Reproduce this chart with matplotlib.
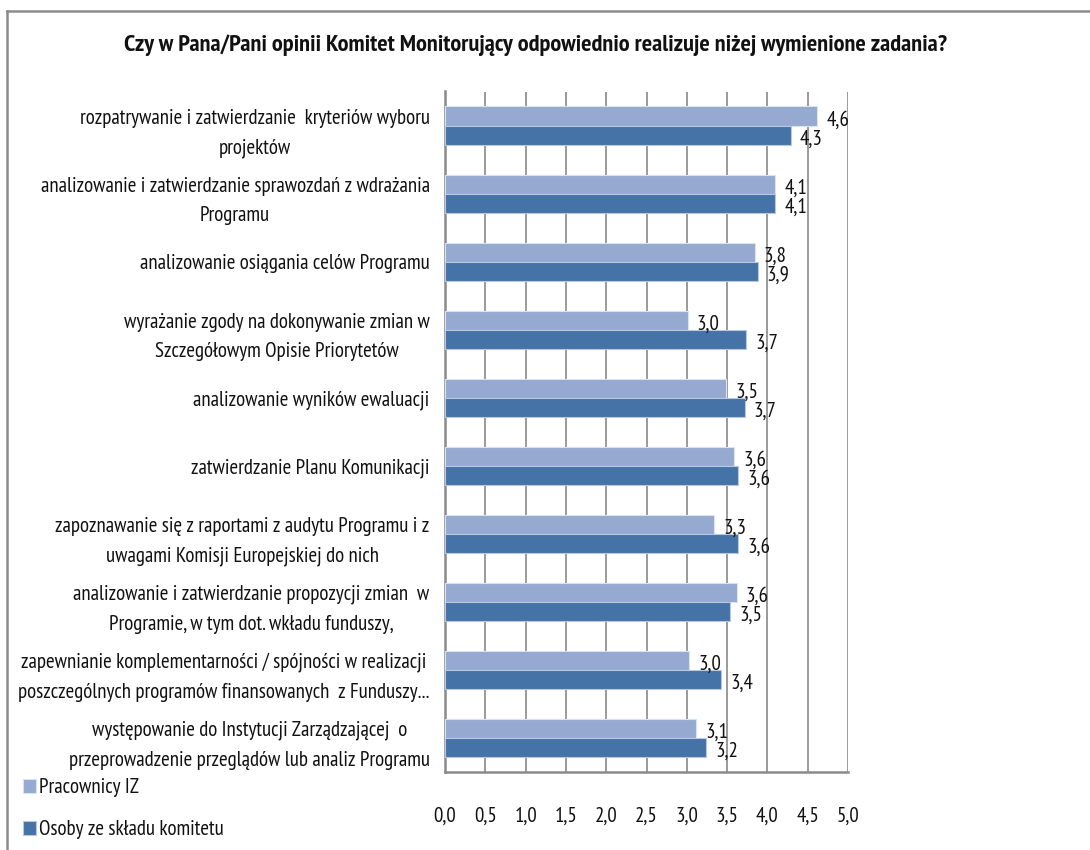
import matplotlib
matplotlib.use("Agg")
import matplotlib.pyplot as plt
from matplotlib.lines import Line2D
import numpy as np

plt.rcParams['font.family'] = ['PT Sans Narrow', 'DejaVu Sans']

title = "Czy w Pana/Pani opinii Komitet Monitorujący odpowiednio realizuje niżej wymienione zadania?"

categories = [
    "rozpatrywanie i zatwierdzanie  kryteriów wyboru\nprojektów",
    "analizowanie i zatwierdzanie sprawozdań z wdrażania\nProgramu",
    "analizowanie osiągania celów Programu",
    "wyrażanie zgody na dokonywanie zmian w\nSzczegółowym Opisie Priorytetów",
    "analizowanie wyników ewaluacji",
    "zatwierdzanie Planu Komunikacji",
    "zapoznawanie się z raportami z audytu Programu i z\nuwagami Komisji Europejskiej do nich",
    "analizowanie i zatwierdzanie propozycji zmian  w\nProgramie, w tym dot. wkładu funduszy,",
    "zapewnianie komplementarności / spójności w realizacji\nposzczególnych programów finansowanych  z Funduszy...",
    "występowanie do Instytucji Zarządzającej  o\nprzeprowadzenie przeglądów lub analiz Programu",
]

series_names = ["Pracownicy IZ", "Osoby ze składu komitetu"]
pracownicy_iz = [4.62, 4.10, 3.84, 3.01, 3.49, 3.59, 3.34, 3.62, 3.03, 3.12]
osoby_komitet = [4.29, 4.10, 3.88, 3.74, 3.72, 3.64, 3.64, 3.54, 3.43, 3.24]

x_ticks = [0.0, 0.5, 1.0, 1.5, 2.0, 2.5, 3.0, 3.5, 4.0, 4.5, 5.0]

light = "#95A9D1"
dark = "#4572A7"
grid_col = "#9A9A9A"
txt_col = "#111111"
fs = 15

fig = plt.figure(figsize=(10.9, 8.5), dpi=100)
ax = fig.add_axes([445 / 1090, 1 - 772 / 850, (848 - 445) / 1090, (772 - 91.5) / 850])

y = np.arange(len(categories))
h = 0.28
b1 = ax.barh(y - h / 2, pracownicy_iz, height=h, color=light, edgecolor="#DCE3F0",
             linewidth=0.8, label=series_names[0], zorder=3)
b2 = ax.barh(y + h / 2, osoby_komitet, height=h, color=dark, edgecolor="#B9C8E0",
             linewidth=0.8, label=series_names[1], zorder=3)

def fmt(v):
    return f"{v:.1f}".replace(".", ",")

for bars, vals in ((b1, pracownicy_iz), (b2, osoby_komitet)):
    for rect, v in zip(bars, vals):
        ax.annotate(fmt(v), xy=(v, rect.get_y() + rect.get_height() / 2),
                    xytext=(9, -4), textcoords="offset pixels",
                    ha="left", va="center", fontsize=fs, color=txt_col, zorder=4)

ax.set_xlim(0, 5)
ax.set_ylim(len(categories) - 0.5, -0.5)
ax.set_xticks(x_ticks)
ax.set_xticklabels([fmt(t) for t in x_ticks], fontsize=fs, color=txt_col)
ax.set_yticks(y)
ax.set_yticklabels(categories, fontsize=fs, color=txt_col,
                   multialignment="center", linespacing=1.7)
ax.tick_params(axis="both", length=0)
ax.tick_params(axis="x", pad=25)
ax.tick_params(axis="y", pad=11)

ax.grid(axis="x", color=grid_col, linewidth=1.4, zorder=0)
ax.set_axisbelow(True)
for side in ("top", "right"):
    ax.spines[side].set_visible(False)
ax.spines["left"].set_color("#8A8A8A")
ax.spines["left"].set_linewidth(1.8)
ax.spines["bottom"].set_color("#8A8A8A")
ax.spines["bottom"].set_linewidth(1.8)

fig.text(535 / 1090, 1 - 45 / 850, title, ha="center", va="center",
         fontsize=17.6, fontweight="bold", color=txt_col)

fig.legend(handles=[b1, b2], labels=series_names, loc="upper left",
           bbox_to_anchor=(15 / 1090, 1 - 770 / 850), frameon=False,
           fontsize=fs, handlelength=0.6, handleheight=0.65, handletextpad=0.15,
           labelspacing=1.1, borderaxespad=0, labelcolor=txt_col)

# outer frame: top and left edges
fig.add_artist(Line2D([7 / 1090, 1.0], [1 - 11 / 850, 1 - 11 / 850],
                      transform=fig.transFigure, color="#8C8C8C", linewidth=1.8))
fig.add_artist(Line2D([7 / 1090, 7 / 1090], [1 - 11 / 850, 0.0],
                      transform=fig.transFigure, color="#8C8C8C", linewidth=1.8))

fig.savefig("out.png", dpi=100)
